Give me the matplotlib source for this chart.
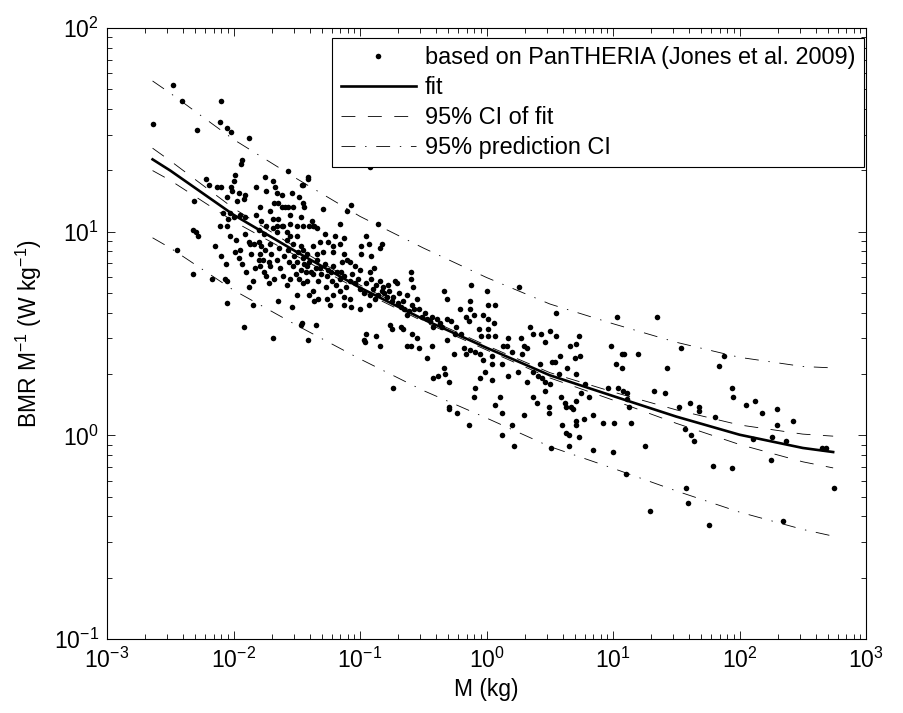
import matplotlib

matplotlib.use("Agg")
import matplotlib.pyplot as plt
import numpy as np
from matplotlib.ticker import NullFormatter

plt.rcParams["font.family"] = ["Liberation Sans", "DejaVu Sans"]
plt.rcParams["mathtext.fontset"] = "custom"
plt.rcParams["mathtext.rm"] = "Liberation Sans"
plt.rcParams["mathtext.it"] = "Liberation Sans:italic"
plt.rcParams["mathtext.bf"] = "Liberation Sans:bold"
plt.rcParams["lines.scale_dashes"] = False

# PanTHERIA species: log10 M (kg) and log10 BMR/M (W/kg)
# small mammals, upper left
log_mass_a = [-2.48, -2.41, -2.10, -2.64, -2.29, -2.11, -2.05, -2.02, -1.88, -1.93,
              -1.94, -1.57, -1.75, -1.69, -1.99, -2.00, -2.22, -2.19, -2.13, -2.10,
              -2.02, -2.01, -1.82, -1.74, -1.67, -1.66, -1.62, -1.54, -1.46, -1.41,
              -1.48, -1.45, -2.05, -1.96, -1.91, -1.92, -1.97, -1.79, -2.31, -1.68,
              -1.65, -1.62, -1.59, -1.57, -1.53, -2.08, -2.03, -2.00, -1.95, -1.91,
              -1.82, -1.71, -1.69, -1.65, -1.55, -1.47, -1.45, -2.04, -2.05, -2.11,
              -2.32, -1.78, -1.61, -1.55, -1.50, -1.66]
log_bmr_a = [1.72, 1.64, 1.64, 1.53, 1.50, 1.54, 1.51, 1.49, 1.46, 1.35,
             1.33, 1.30, 1.27, 1.25, 1.28, 1.25, 1.26, 1.23, 1.22, 1.22,
             1.22, 1.20, 1.22, 1.20, 1.22, 1.19, 1.18, 1.19, 1.23, 1.26,
             1.17, 1.14, 1.17, 1.19, 1.18, 1.16, 1.15, 1.12, 1.15, 1.14,
             1.14, 1.12, 1.12, 1.12, 1.12, 1.09, 1.09, 1.07, 1.08, 1.07,
             1.08, 1.10, 1.06, 1.06, 1.08, 1.07, 1.03, 1.06, 1.03, 1.03,
             1.01, 1.05, 1.03, 1.04, 1.03, 1.03]

log_mass_b = [-0.92, -1.41, -1.45, -1.07, -1.10, -1.29, -1.44, -1.16, -0.86, -1.40,
              -1.37, -1.34]
log_bmr_b = [1.32, 1.27, 1.23, 1.13, 1.10, 1.11, 1.12, 1.04, 1.04, 1.03,
             1.03, 1.02]

log_mass_c = [-2.30, -2.28, -2.45, -2.32, -2.15, -2.10, -2.06, -2.17, -2.07, -2.05,
              -2.05, -2.03, -1.99, -1.95, -1.91, -1.88, -1.87, -1.93, -1.90, -1.85,
              -1.88, -1.80, -1.79, -1.79, -1.76, -1.84, -1.80, -1.78, -1.75, -1.71,
              -1.72, -1.71, -1.70, -1.68, -1.72, -1.65, -1.61, -1.58, -1.55, -1.51,
              -1.54, -1.50, -1.47, -1.46, -1.85, -1.92, -1.69, -1.41, -1.69, -1.66,
              -1.62, -1.58, -1.55, -1.50, -1.58, -1.53, -1.47, -1.45, -1.42, -1.53,
              -1.50, -1.47, -1.43, -1.45, -1.42, -1.40, -1.80, -1.76, -1.74]
log_bmr_c = [1.00, 0.98, 0.91, 0.79, 0.93, 0.88, 0.84, 0.77, 0.77, 0.76,
             0.65, 0.98, 0.90, 0.91, 0.99, 0.95, 0.94, 0.84, 0.80, 0.76,
             0.73, 0.86, 0.89, 0.83, 0.80, 0.94, 0.95, 0.93, 0.91, 0.94,
             0.85, 0.83, 0.89, 0.77, 0.75, 0.66, 0.78, 0.74, 0.77, 0.79,
             0.63, 0.69, 0.54, 0.55, 0.64, 0.53, 0.48, 0.47, 1.02, 1.00,
             1.03, 1.00, 0.98, 0.98, 0.96, 0.94, 0.93, 0.91, 0.89, 0.83,
             0.85, 0.81, 0.80, 0.75, 0.76, 0.69, 1.01, 0.99, 1.03]

# dense middle band
log_mass_d = [-1.38, -1.36, -1.28, -1.20, -1.13, -0.95, -1.32, -1.25, -1.21, -1.16,
              -1.37, -1.34, -1.29, -0.99, -0.93, -0.91, -0.99, -0.84, -0.83, -1.21,
              -1.13, -1.14, -1.10, -1.08, -1.04, -1.00, -1.45, -1.42, -1.40, -1.34,
              -1.32, -1.28, -1.25, -1.21, -1.18, -1.16, -1.37, -1.33, -1.26, -1.22,
              -1.13, -1.08, -1.04, -1.00, -0.95, -0.92, -0.89, -0.91, -0.84, -0.82,
              -0.78, -0.72, -0.71, -0.60, -0.60, -0.58, -1.37, -1.33, -1.36, -1.26,
              -1.24, -1.21, -1.16, -1.13, -1.08, -1.07, -1.13, -1.00, -0.93, -0.92,
              -0.88, -0.86, -0.83, -0.79, -0.75, -0.74, -0.70, -0.68, -0.66, -0.63,
              -0.59, -0.55, -0.57, -0.63, -0.53, -0.49, -0.47, -0.43, -0.39, -0.37,
              -0.42, -0.31, -0.34, -0.31, -0.21, -0.13, -0.10, -0.16, -0.14, -0.24,
              -0.25, -0.95, -0.87, -0.96, -0.84, -0.76, -0.75, -0.68, -0.66, -0.59,
              -0.55, -0.63, -0.60, -0.53, -0.47, -0.43, -0.31, -0.26, -0.18, -0.16,
              -0.09, -0.34, -0.33, -0.38, -0.42, -0.09, -0.74, -1.35, -0.97]
log_bmr_d = [1.05, 1.03, 0.99, 0.98, 0.97, 0.98, 0.95, 0.95, 0.93, 0.94,
             0.93, 0.89, 0.90, 0.93, 0.94, 0.88, 0.89, 0.92, 0.94, 0.90,
             0.89, 0.85, 0.86, 0.85, 0.83, 0.81, 0.87, 0.83, 0.85, 0.86,
             0.82, 0.84, 0.81, 0.83, 0.80, 0.77, 0.79, 0.76, 0.78, 0.76,
             0.78, 0.76, 0.75, 0.72, 0.75, 0.80, 0.82, 0.77, 0.76, 0.73,
             0.74, 0.76, 0.75, 0.80, 0.77, 0.73, 0.71, 0.67, 0.66, 0.67,
             0.64, 0.69, 0.71, 0.68, 0.67, 0.63, 0.64, 0.62, 0.64, 0.69,
             0.67, 0.69, 0.71, 0.68, 0.66, 0.68, 0.65, 0.63, 0.66, 0.69,
             0.64, 0.67, 0.62, 0.59, 0.62, 0.60, 0.57, 0.58, 0.57, 0.55,
             0.53, 0.57, 0.71, 0.67, 0.62, 0.62, 0.59, 0.58, 0.56, 0.53,
             0.50, 0.50, 0.49, 0.46, 0.44, 0.54, 0.52, 0.53, 0.52, 0.50,
             0.48, 0.44, 0.44, 0.43, 0.38, 0.44, 0.47, 0.40, 0.43, 0.40,
             0.41, 0.33, 0.30, 0.29, 0.28, 0.23, 0.23, 0.54, 0.47]

# overlapping dots inside the dense core
log_mass_g = [-1.98, -1.96, -1.86, -1.83, -1.77, -1.74, -1.66, -1.64, -1.63, -1.60,
              -1.57, -1.56, -1.52, -1.49, -1.48, -1.44, -1.39, -1.35, -1.31, -1.27,
              -1.23, -1.19, -1.15, -1.11, -1.06, -1.02, -0.97, -0.90, -0.87, -0.81,
              -0.77, -0.69, -0.65, -0.61, -0.51, -0.45, -0.35, -0.28, -0.20, -0.06]
log_bmr_g = [0.96, 0.87, 0.89, 0.82, 0.86, 0.78, 0.86, 0.92, 0.82, 0.88,
             0.91, 0.85, 0.88, 0.90, 0.77, 0.84, 0.80, 0.82, 0.79, 0.73,
             0.80, 0.74, 0.80, 0.73, 0.79, 0.77, 0.70, 0.72, 0.74, 0.70,
             0.71, 0.70, 0.62, 0.61, 0.58, 0.56, 0.53, 0.56, 0.50, 0.52]

log_mass_e = [-0.12, 0.26, 0.00, -0.13, -0.03, 0.01, 0.07, 0.01, 0.06, 0.01,
              0.55, 0.34, 0.37, 0.43, 0.50, 0.55, 0.46, 0.73, 1.03, 1.35,
              -0.04, 0.01, 0.07, 0.17, 0.27, 0.13, 0.16, 0.20, 0.28, 0.30,
              0.32, 0.66, 0.71, 0.74, 0.70, 0.98, 1.07, 1.09, 1.20, 1.02,
              1.07, 1.43, -0.13, -0.05, -0.03, 0.04, 0.04, 0.12, -0.01, -0.05,
              0.04, 0.17, 0.25, 0.32, 0.37, 0.41, 0.44, 0.46, 0.50, 0.52,
              0.54, 0.58, 0.64, 0.71, 0.57, 0.42, 0.78, 0.96, 1.04]
log_bmr_e = [0.74, 0.73, 0.71, 0.66, 0.59, 0.64, 0.64, 0.57, 0.55, 0.52,
             0.60, 0.53, 0.50, 0.50, 0.51, 0.49, 0.46, 0.49, 0.58, 0.58,
             0.49, 0.49, 0.49, 0.48, 0.48, 0.44, 0.44, 0.41, 0.40, 0.44,
             0.43, 0.44, 0.45, 0.39, 0.38, 0.44, 0.40, 0.40, 0.40, 0.35,
             0.33, 0.33, 0.42, 0.40, 0.37, 0.39, 0.35, 0.35, 0.31, 0.28,
             0.27, 0.29, 0.31, 0.26, 0.31, 0.29, 0.28, 0.26, 0.25, 0.36,
             0.36, 0.39, 0.33, 0.30, 0.30, 0.35, 0.25, 0.23, 0.23]

# larger mammals, lower right
log_mass_f = [-0.30, -0.10, -0.30, -0.30, -0.23, -0.14,
              0.46, 0.07, 0.11, 0.12, 0.30, 0.37, 0.40, 0.49, 0.49, 0.59,
              0.62, 0.63, 0.67, 0.68, 0.71, 0.75, 0.81, 0.77, 0.71, 0.71,
              0.60, 0.63, 0.65, 0.73, 0.84, 0.92, 1.01, 1.08, 1.11, 1.11,
              1.13, 1.14, 1.32, 1.41, 0.20, 0.12, 0.22, 0.51, 0.65, 0.84,
              1.00, 1.25, 1.10, 1.29,
              1.54, 1.88, 1.84, 1.94,
              1.95, 1.52, 1.61, 1.68, 1.68, 1.81, 2.05, 2.12, 2.18, 2.30,
              2.30, 2.42, 1.57, 1.62, 1.64, 2.11, 2.26, 2.37, 2.65, 2.68,
              2.25, 1.79, 1.94, 1.58, 1.59, 1.76, 2.34, 2.75]
log_bmr_f = [0.26, 0.19, 0.14, 0.13, 0.11, 0.05,
             0.22, 0.15, 0.19, 0.11, 0.10, 0.19, 0.16, 0.14, 0.11, 0.19,
             0.16, 0.14, 0.14, 0.13, 0.17, 0.21, 0.19, 0.08, 0.07, 0.05,
             0.05, 0.01, 0.00, -0.01, 0.10, 0.06, 0.06, 0.22, 0.21, 0.18,
             0.14, 0.06, 0.22, 0.21, 0.05, 0.00, -0.05, -0.06, -0.05, -0.07,
             -0.08, -0.05, -0.19, -0.37,
             0.43, 0.39, 0.34, 0.23,
             0.19, 0.14, 0.16, 0.14, 0.12, 0.09, 0.15, 0.17, 0.11, 0.13,
             0.05, 0.07, 0.03, 0.00, -0.03, -0.02, -0.01, -0.03, -0.06, -0.06,
             -0.12, -0.15, -0.16, -0.26, -0.33, -0.44, -0.42, -0.26]

# fitted curve and bands, log10 values
curve_log_mass = [-2.64, -2.5, -2.0, -1.5, -1.0, -0.5, 0.0, 0.5, 1.0, 1.5, 2.0, 2.5, 2.74]
fit_log = [1.355, 1.300, 1.083, 0.900, 0.725, 0.570, 0.430, 0.295, 0.193, 0.092, 0.003, -0.062, -0.082]
ci_upper_log = [1.410, 1.348, 1.115, 0.920, 0.738, 0.581, 0.441, 0.308, 0.213, 0.125, 0.051, 0.006, -0.004]
ci_lower_log = [1.300, 1.252, 1.051, 0.880, 0.712, 0.559, 0.419, 0.282, 0.173, 0.059, -0.045, -0.130, -0.160]
pi_upper_log = [1.740, 1.680, 1.453, 1.260, 1.075, 0.920, 0.775, 0.645, 0.548, 0.457, 0.383, 0.338, 0.331]
pi_lower_log = [0.970, 0.920, 0.713, 0.540, 0.375, 0.220, 0.085, -0.055, -0.162, -0.273, -0.377, -0.462, -0.495]

x_ticks = [1e-3, 1e-2, 1e-1, 1e0, 1e1, 1e2, 1e3]
y_ticks = [1e-1, 1e0, 1e1, 1e2]

log_mass = np.concatenate([log_mass_a, log_mass_b, log_mass_c, log_mass_d,
                           log_mass_g, log_mass_e, log_mass_f])
log_bmr = np.concatenate([log_bmr_a, log_bmr_b, log_bmr_c, log_bmr_d,
                          log_bmr_g, log_bmr_e, log_bmr_f])
cm = 10 ** np.asarray(curve_log_mass)

fs = 16.5
fig = plt.figure(figsize=(9.04, 7.13), dpi=100, facecolor="white")
ax = fig.add_axes([0.1184, 0.1038, 0.8396, 0.8569])

ax.plot(10 ** log_mass, 10 ** log_bmr, "o", ms=4.0, color="k", mec="none",
        label="based on PanTHERIA (Jones et al. 2009)")
ax.plot(cm, 10 ** np.asarray(fit_log), "k-", lw=1.9, label="fit")
ax.plot(cm, 10 ** np.asarray(ci_upper_log), color="k", lw=0.6, dashes=(10, 9),
        label="95% CI of fit")
ax.plot(cm, 10 ** np.asarray(ci_lower_log), color="k", lw=0.6, dashes=(10, 9))
ax.plot(cm, 10 ** np.asarray(pi_upper_log), color="k", lw=0.6, dashes=(10, 7, 1, 7),
        label="95% prediction CI")
ax.plot(cm, 10 ** np.asarray(pi_lower_log), color="k", lw=0.6, dashes=(10, 7, 1, 7))

ax.set_xscale("log")
ax.set_yscale("log")
ax.set_xticks(x_ticks)
ax.set_yticks(y_ticks)
ax.set_xlim(1e-3, 1e3)
ax.set_ylim(1e-1, 1e2)
ax.xaxis.set_minor_formatter(NullFormatter())
ax.yaxis.set_minor_formatter(NullFormatter())
ax.tick_params(which="both", direction="in", top=True, right=True, width=0.6,
               labelsize=fs, pad=6)
ax.tick_params(which="major", length=6)
ax.tick_params(which="minor", length=3.5)
for s in ax.spines.values():
    s.set_linewidth(0.8)

ax.set_xlabel("M (kg)", fontsize=fs, labelpad=4)
ax.set_ylabel("BMR M$^{-1}$ (W kg$^{-1}$)", fontsize=fs, labelpad=7)

leg = ax.legend(loc="upper right", bbox_to_anchor=(0.997, 0.984), borderaxespad=0,
                frameon=True, fancybox=False, edgecolor="k", fontsize=16.9,
                handlelength=3.2, handletextpad=0.4, labelspacing=0.3,
                borderpad=0.35, numpoints=1)
leg.get_frame().set_linewidth(0.8)
leg.get_frame().set_alpha(1)

fig.savefig("out.png", dpi=100, facecolor="white")
